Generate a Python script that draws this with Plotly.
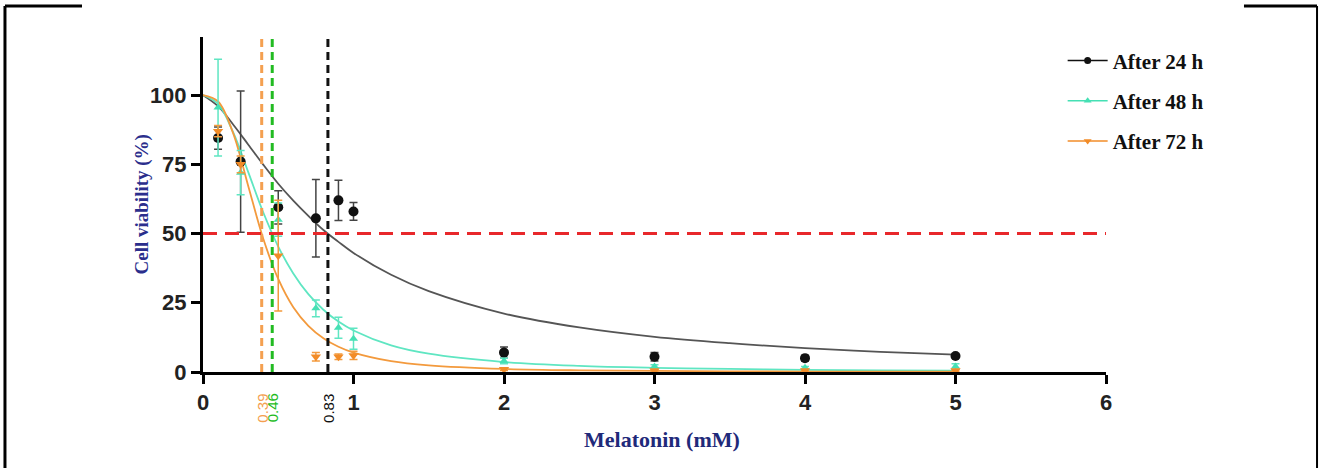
import plotly.graph_objects as go

# ---------------- data ----------------
dose = [0.1, 0.25, 0.5, 0.75, 0.9, 1.0, 2.0, 3.0, 4.0, 5.0]

v24 = [84.5, 76.0, 59.5, 55.5, 62.0, 58.0, 7.0, 5.5, 5.0, 5.8]
e24 = [4.0, 25.5, 6.0, 14.0, 7.3, 3.2, 2.0, 1.5, 1.0, 0.6]

v48 = [95.5, 72.0, 55.0, 23.0, 16.0, 12.0, 4.0, 2.0, 1.5, 2.0]
e48 = [17.5, 8.0, 6.0, 3.0, 3.8, 3.8, 1.0, 0.6, 0.5, 1.0]

v72 = [87.0, 75.0, 42.0, 5.5, 5.5, 6.0, 1.0, 0.5, 0.5, 0.5]
e72 = [2.0, 3.0, 20.0, 1.5, 1.0, 1.5, 0.5, 0.3, 0.3, 0.3]

# fitted curves, values
fit_x = [0, 0.1, 0.2, 0.3, 0.4, 0.5, 0.6, 0.7, 0.8, 0.9, 1.0, 1.25, 1.5, 2.0, 2.5, 3.0, 3.5, 4.0, 4.5, 5.0]
fit24 = [100, 96, 89.4, 82.2, 74.9, 68, 61.9, 56.4, 51.3, 47, 43, 35.1, 29.2, 21.1, 16.1, 12.7, 10.4, 8.6, 7.3, 6.3]
fit48 = [100, 96.8, 86.6, 72.3, 57.7, 45.3, 35.6, 28.1, 22.5, 18.2, 15, 9.6, 6.6, 3.6, 2.2, 1.5, 1.1, 0.8, 0.6, 0.5]
fit72 = [100, 97.7, 86.3, 67.3, 48.2, 33.6, 23.4, 16.7, 12.2, 9.1, 7, 3.9, 2.4, 1.1, 0.6, 0.4, 0.25, 0.15, 0.12, 0.1]

ic50 = [0.83, 0.46, 0.39]
ic50_labels = ["0.83", "0.46", "0.39"]
series_names = ["After 24 h", "After 48 h", "After 72 h"]

x_ticks = [0, 1, 2, 3, 4, 5, 6]
y_ticks = [0, 25, 50, 75, 100]

# ---------------- styles ----------------
pt_colors = ["#111111", "#45E0B4", "#F28C28"]
fit_colors = ["#555555", "#5FE6C2", "#F39A3D"]
err_colors = ["#444444", "#5FE6C2", "#F39A3D"]
ic_colors = ["#111111", "#22BB22", "#F4A050"]
symbols = ["circle", "triangle-up", "triangle-down"]
sizes = [10, 8, 9]

fig = go.Figure()

values = [v24, v48, v72]
errs = [e24, e48, e72]
fits = [fit24, fit48, fit72]

# fitted curves
for i in range(3):
    fig.add_trace(go.Scatter(
        x=fit_x, y=fits[i], mode="lines", line=dict(color=fit_colors[i], width=1.8, shape="spline"),
        showlegend=False, hoverinfo="skip", cliponaxis=False))

# data points with error bars
for i in range(3):
    fig.add_trace(go.Scatter(
        x=dose, y=values[i], mode="markers",
        marker=dict(color=pt_colors[i], symbol=symbols[i], size=sizes[i]),
        error_y=dict(type="data", array=errs[i], color=err_colors[i], thickness=1.5, width=4),
        showlegend=False, cliponaxis=False))

# legend entries
for i in range(3):
    fig.add_trace(go.Scatter(
        x=[None], y=[None], mode="lines+markers", name=series_names[i], legendgroup="g%d" % i,
        line=dict(color=pt_colors[i], width=1.5),
        marker=dict(color=pt_colors[i], symbol=symbols[i], size=7)))

# IC50 vertical dashed lines and labels
for i in range(3):
    fig.add_shape(type="line", x0=ic50[i], x1=ic50[i], y0=0, y1=121, xref="x", yref="y",
                  line=dict(color=ic_colors[i], width=3, dash="8px,5px"))
    fig.add_annotation(x=ic50[i], y=0, xref="x", yref="y", yshift=-36, text=ic50_labels[i],
                       textangle=-90, showarrow=False,
                       font=dict(family="Liberation Sans", size=15, color=ic_colors[i]))

# 50 % line
fig.add_shape(type="line", x0=0, x1=6, y0=50, y1=50, xref="x", yref="y",
              line=dict(color="#E8282B", width=3, dash="14px,8px"))

# frame
frame = dict(color="black", width=3)
fig.add_shape(type="line", xref="paper", yref="paper", x0=-0.2193, x1=-0.2193, y0=1.0925, y1=-0.30, line=frame)
fig.add_shape(type="line", xref="paper", yref="paper", x0=-0.2193, x1=-0.134, y0=1.0925, y1=1.0925, line=frame)
fig.add_shape(type="line", xref="paper", yref="paper", x0=1.2337, x1=1.2337, y0=1.0925, y1=-0.30, line=dict(color="black", width=2))
fig.add_shape(type="line", xref="paper", yref="paper", x0=1.1528, x1=1.2337, y0=1.0925, y1=1.0925, line=frame)

# axis titles
fig.add_annotation(x=-0.082, y=0.5, xref="paper", yref="paper", text="<b>Cell viability (%)</b>",
                   textangle=-90, showarrow=False,
                   font=dict(family="Liberation Serif", size=19, color="#2B2E8C"))
fig.add_annotation(x=0.508, y=-0.245, xref="paper", yref="paper", text="<b>Melatonin (mM)</b>",
                   showarrow=False, font=dict(family="Liberation Serif", size=22, color="#1F2A7A"))

tick_font = dict(family="Liberation Sans", size=22, color="#222222", weight="bold")
fig.update_xaxes(range=[0, 6], tickvals=x_ticks, showline=True, linecolor="black", linewidth=3,
                 ticks="outside", ticklen=9, tickwidth=3, tickcolor="black", showgrid=False, zeroline=False,
                 tickfont=tick_font)
fig.update_yaxes(range=[0, 121], tickvals=y_ticks, showline=True, linecolor="black", linewidth=3,
                 ticks="outside", ticklen=9, tickwidth=3, tickcolor="black", showgrid=False, zeroline=False,
                 tickfont=tick_font)

fig.update_layout(
    width=1319, height=468,
    margin=dict(l=203, r=213, t=37, b=96),
    plot_bgcolor="white", paper_bgcolor="white",
    legend=dict(x=0.952, y=0.99, xanchor="left", yanchor="top", bgcolor="rgba(0,0,0,0)",
                font=dict(family="Liberation Serif", size=21, color="#111111", weight="bold"),
                tracegroupgap=10, itemwidth=40),
)

fig.write_html("out.html", config={"displayModeBar": False},
               post_script="document.body.style.margin='0';")
